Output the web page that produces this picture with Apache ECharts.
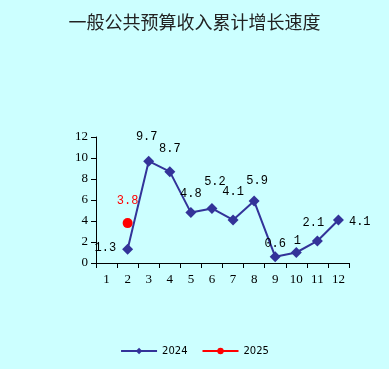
<!DOCTYPE html>
<html><head><meta charset="utf-8">
<script src="https://cdn.jsdelivr.net/npm/echarts@6/dist/echarts.min.js"></script>
<style>html,body{margin:0;padding:0;background:#ccffff;}#c{width:389px;height:369px;}</style>
</head><body><div id="c"></div>
<script>
const months = ['1','2','3','4','5','6','7','8','9','10','11','12'];
const v2024 = [null,1.3,9.7,8.7,4.8,5.2,4.1,5.9,0.6,1,2.1,4.1];
const v2025 = [null,3.8,null,null,null,null,null,null,null,null,null,null];
const yTicks = [0,2,4,6,8,10,12];
// label placement per point (style only)
const lbl2024 = [null,['left',[-1,-2]],['top',[-2,-8]],['top',[0,-6]],['top',[0,-2]],['top',[3,-10]],['top',[0,-12]],['top',[3,-4]],['top',[0,4]],['top',[1,5]],['top',[-4,-2]],['right',[0,2]]];
const chart = echarts.init(document.getElementById('c'));
const fontL = 'Liberation Mono';
chart.setOption({
  backgroundColor:'#ccffff',
  animation:false,
  title:{text:'一般公共预算收入累计增长速度',left:'center',top:8,
    textStyle:{fontFamily:'Noto Sans CJK SC',fontSize:18,fontWeight:'normal',color:'#222'}},
  grid:{left:96,right:40,top:137,bottom:106},
  legend:{bottom:8,left:'center',itemWidth:36,itemHeight:8,itemGap:14,
    textStyle:{fontFamily:'DejaVu Sans',fontSize:10,color:'#000'},data:['2024','2025']},
  xAxis:{type:'category',data:months,boundaryGap:true,
    axisLine:{lineStyle:{color:'#000',width:1}},
    axisTick:{show:true,length:5,lineStyle:{color:'#000'},alignWithLabel:false},
    axisLabel:{color:'#000',fontFamily:'Liberation Serif',fontSize:13,margin:10}},
  yAxis:{type:'value',min:0,max:12,interval:2,
    axisLine:{show:true,lineStyle:{color:'#000'}},
    axisTick:{show:true,length:5,lineStyle:{color:'#000'}},
    splitLine:{show:false},
    axisLabel:{color:'#000',fontFamily:'Liberation Serif',fontSize:13,margin:8,
      formatter:v=>yTicks.includes(v)?String(v):''}},
  series:[
    {name:'2024',type:'line',data:v2024.map((v,i)=>v==null?null:{value:v,label:{position:lbl2024[i][0],offset:lbl2024[i][1]}}),
      connectNulls:false,symbol:'diamond',symbolSize:11,
      lineStyle:{color:'#333399',width:2},itemStyle:{color:'#333399'},
      label:{show:true,fontFamily:fontL,fontSize:12,color:'#000',
        formatter:p=>String(p.value)}},
    {name:'2025',type:'line',data:v2025.map(v=>v==null?null:{value:v}),
      symbol:'circle',symbolSize:10,
      lineStyle:{color:'#ff0000',width:2},itemStyle:{color:'#ff0000'},
      label:{show:true,position:'top',offset:[0,-6],fontFamily:fontL,fontSize:12,color:'#ff0000'}}
  ]
});
</script></body></html>
